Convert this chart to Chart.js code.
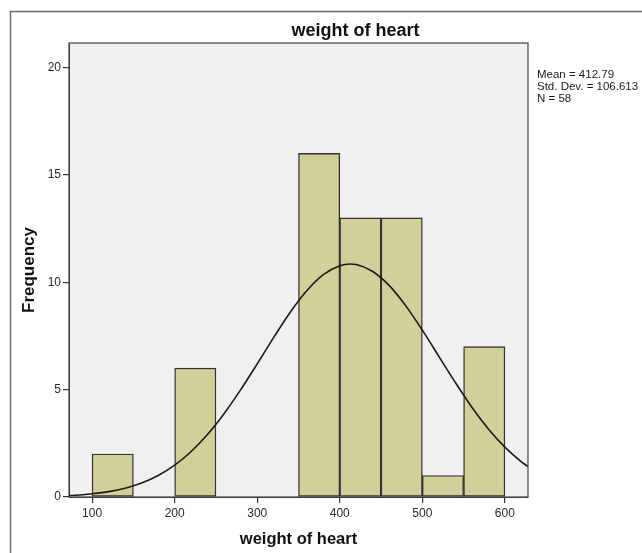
<!DOCTYPE html>
<html>
<head>
<meta charset="utf-8">
<script src="https://cdn.jsdelivr.net/npm/chart.js@4/dist/chart.umd.min.js"></script>
<style>
  html, body { margin: 0; padding: 0; background: #ffffff; }
  #wrap { width: 642px; height: 553px; }
</style>
</head>
<body>
<div id="wrap"><canvas id="c" width="642" height="553"></canvas></div>
<script>
// ---- data ----
const chartTitle = "weight of heart";
const xAxisTitle = "weight of heart";
const yAxisTitle = "Frequency";
const binCenters = [125, 225, 375, 425, 475, 525, 575];   // bins of width 50
const binCounts  = [2, 6, 16, 13, 13, 1, 7];
const curveX = [72, 80, 100, 120, 140, 160, 180, 200, 220, 240, 260, 280, 300, 320, 340, 360, 380, 400, 412.79, 420, 440, 460, 480, 500, 520, 540, 560, 580, 600, 620, 628];
const curveY = [0.07, 0.08, 0.15, 0.25, 0.41, 0.65, 1.00, 1.48, 2.12, 2.92, 3.89, 5.00, 6.20, 7.43, 8.60, 9.60, 10.35, 10.77, 10.85, 10.83, 10.50, 9.84, 8.90, 7.77, 6.55, 5.33, 4.18, 3.17, 2.32, 1.64, 1.42];
const xTicks = [100, 200, 300, 400, 500, 600];
const yTicks = [0, 5, 10, 15, 20];
const xRange = [72, 628];
const yRange = [0, 21.14];
const statsLines = ["Mean = 412.79", "Std. Dev. = 106.613", "N = 58"];

const FONT = "'Liberation Sans', Arial, sans-serif";

const decor = {
  id: 'decor',
  beforeDraw(chart) {
    const {ctx, chartArea: a} = chart;
    ctx.save();
    ctx.strokeStyle = '#6a6a6a';
    ctx.lineWidth = 1.5;
    ctx.strokeRect(10.5, 11.5, 700, 700);
    ctx.fillStyle = '#f0f0f0';
    ctx.fillRect(a.left, a.top, a.right - a.left, a.bottom - a.top);
    ctx.restore();
  },
  afterDatasetsDraw(chart) {
    const {ctx, chartArea: a} = chart;
    ctx.save();
    ctx.strokeStyle = '#444444';
    ctx.lineWidth = 1.2;
    ctx.strokeRect(a.left, a.top, a.right - a.left, a.bottom - a.top);
    ctx.restore();
  },
  afterDraw(chart) {
    const {ctx, chartArea: a, width} = chart;
    ctx.save();
    ctx.fillStyle = '#111111';
    ctx.font = "bold 18px " + FONT;
    ctx.textAlign = 'center';
    ctx.textBaseline = 'alphabetic';
    ctx.fillText(chartTitle, (a.left + width) / 2, 36);
    ctx.font = "11.5px " + FONT;
    ctx.textAlign = 'left';
    ctx.fillStyle = '#1a1a1a';
    statsLines.forEach((t, i) => ctx.fillText(t, a.right + 9, 78 + i * 11.8));
    ctx.restore();
  }
};

new Chart(document.getElementById('c'), {
  type: 'bar',
  data: {
    datasets: [
      {
        type: 'line',
        data: curveX.map((x, i) => ({x, y: curveY[i]})),
        borderColor: '#1a1a1a',
        borderWidth: 1.6,
        pointRadius: 0,
        cubicInterpolationMode: 'monotone',
        fill: false,
        order: 1
      },
      {
        type: 'bar',
        data: binCenters.map((x, i) => ({x, y: binCounts[i]})),
        backgroundColor: 'rgb(211,207,152)',
        borderColor: '#333333',
        borderWidth: 1.4,
        borderSkipped: false,
        categoryPercentage: 1.0,
        barPercentage: 1.0,
        order: 2
      }
    ]
  },
  plugins: [decor],
  options: {
    responsive: false,
    animation: false,
    devicePixelRatio: 1,
    layout: { padding: { left: 0, right: 114, top: 43, bottom: 0 } },
    plugins: { legend: { display: false }, tooltip: { enabled: false }, title: { display: false } },
    scales: {
      x: {
        type: 'linear',
        offset: false,
        min: xRange[0],
        max: xRange[1],
        afterBuildTicks: s => { s.ticks = xTicks.map(v => ({value: v})); },
        afterFit: s => { s.height = 56; },
        grid: { offset: false, drawOnChartArea: false, drawTicks: true, tickLength: 6, color: '#333', lineWidth: 1.2 },
        border: { display: true, color: '#333' },
        ticks: { color: '#2a2a2a', font: { size: 12, family: FONT }, padding: 3, maxRotation: 0, autoSkip: false },
        title: { display: true, text: xAxisTitle, color: '#111', font: { size: 16.5, weight: 'bold', family: FONT }, padding: { top: 0, bottom: 4 } }
      },
      y: {
        min: yRange[0],
        max: yRange[1],
        afterBuildTicks: s => { s.ticks = yTicks.map(v => ({value: v})); },
        afterFit: s => { s.width = 69; },
        grid: { offset: false, drawOnChartArea: false, drawTicks: true, tickLength: 6, color: '#333', lineWidth: 1.2 },
        border: { display: true, color: '#333' },
        ticks: { color: '#2a2a2a', font: { size: 12, family: FONT }, padding: 2 },
        title: { display: true, text: yAxisTitle, color: '#111', font: { size: 17, weight: 'bold', family: FONT }, padding: { top: 19, bottom: 0 } }
      }
    }
  }
});
</script>
</body>
</html>
